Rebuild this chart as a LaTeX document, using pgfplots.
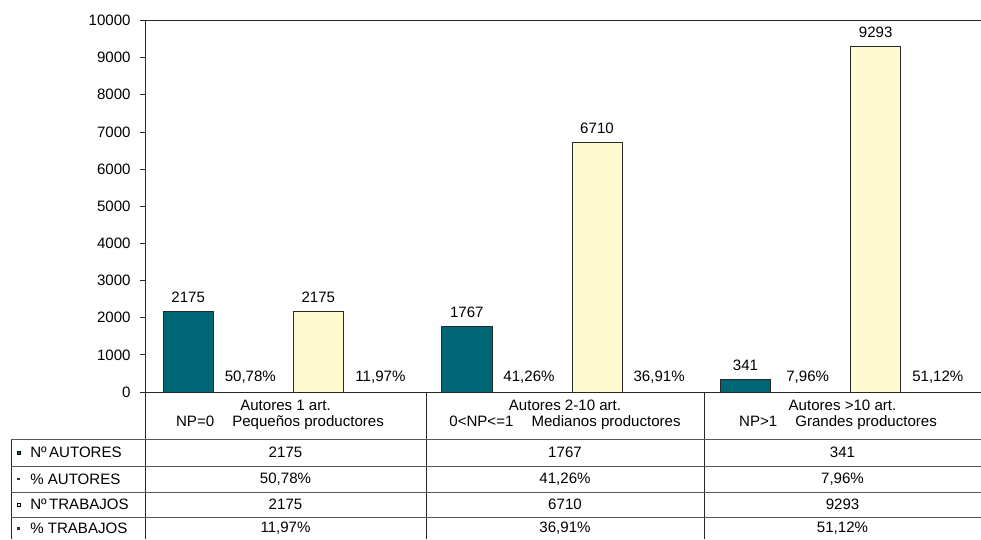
\documentclass[border=0pt]{standalone}
\usepackage{fontspec}
\setmainfont{Liberation Sans}
\usepackage{pgfplots}
\pgfplotsset{compat=1.18}
\definecolor{teal1}{RGB}{0,102,118}
\definecolor{cream}{RGB}{255,250,208}
\definecolor{edge}{RGB}{40,40,40}
\begin{document}
\begin{tikzpicture}[font=\fontsize{11.3}{13}\selectfont]
\useasboundingbox (0,0) rectangle (735.75pt,-404.25pt);
\begin{axis}[
  at={(108.75pt,-294pt)}, anchor=south west,
  scale only axis, width=627pt, height=278.625pt,
  xmin=-0.5, xmax=2.5, ymin=0, ymax=10000,
  axis y line*=left, axis x line*=bottom,
  ytick={0,1000,...,10000}, xtick=\empty,
  scaled y ticks=false,
  tick align=outside, major tick length=3.75pt,
  tick style={edge, line width=0.6pt},
  axis line style={edge, line width=0.75pt},
  yticklabel style={/pgf/number format/1000 sep={}, /pgf/number format/assume math mode=true, font=\fontsize{11.3}{13}\selectfont, xshift=-3.5pt},
  clip=false,
  point meta=explicit symbolic,
  nodes near coords,
  nodes near coords style={font=\fontsize{11.3}{13}\selectfont, anchor=south, yshift=3pt, text=black},
]
% No AUTORES
\addplot[ybar, bar width=0.18, bar shift=0pt, fill=teal1, draw=edge, line width=0.6pt]
  coordinates {(-0.345,2175) [2175] (0.655,1767) [1767] (1.655,341) [341]};
% % AUTORES
\addplot[ybar, bar width=0.18, bar shift=0pt, draw=none, fill=none]
  coordinates {(-0.122,0.5078) [50,78\%] (0.878,0.4126) [41,26\%] (1.878,0.0796) [7,96\%]};
% No TRABAJOS
\addplot[ybar, bar width=0.18, bar shift=0pt, fill=cream, draw=edge, line width=0.6pt]
  coordinates {(0.122,2175) [2175] (1.122,6710) [6710] (2.122,9293) [9293]};
% % TRABAJOS
\addplot[ybar, bar width=0.18, bar shift=0pt, draw=none, fill=none]
  coordinates {(0.345,0.1197) [11,97\%] (1.345,0.3691) [36,91\%] (2.345,0.5112) [51,12\%]};
\end{axis}
\begin{scope}[x=0.75pt, y=-0.75pt]
  % top border of plot area
  \draw[edge, line width=0.75pt] (145,20.5) -- (981,20.5);
  % table grid
  \draw[edge, line width=0.75pt] (145,392) -- (145,539);
  \draw[edge, line width=0.75pt] (426,392) -- (426,539);
  \draw[edge, line width=0.75pt] (704,392) -- (704,539);
  \draw[edge, line width=0.75pt] (11,439) -- (11,539);
  \foreach \yy in {439,466,492,517} {\draw[black!65, line width=0.75pt] (11,\yy) -- (981,\yy);}
  % category headers
  \node at (285.5,405) {Autores 1 art.};
  \node at (280,423) {NP=0\hspace{1.2em}Pequeños productores};
  \node at (565,405) {Autores 2-10 art.};
  \node at (565,423) {0<NP<=1\hspace{1.2em}Medianos productores};
  \node at (842.5,405) {Autores >10 art.};
  \node at (838,423) {NP>1\hspace{1.2em}Grandes productores};
  % legend column
  \fill[teal1, draw=black, line width=0.3pt] (17,451) rectangle (20,454);
  \fill[black!80] (17,478) rectangle (20,480);
  \fill[cream, draw=black, line width=0.3pt] (17,503) rectangle (20,506);
  \fill[black!80] (17,527) rectangle (20,530);
  \node[anchor=west, inner sep=0pt] at (30,452.5) {Nº\,AUTORES};
  \node[anchor=west, inner sep=0pt] at (30,479) {\% AUTORES};
  \node[anchor=west, inner sep=0pt] at (30,504.5) {Nº\,TRABAJOS};
  \node[anchor=west, inner sep=0pt] at (30,528) {\% TRABAJOS};
  % values
  \node at (285.5,452.5) {2175};
  \node at (565,452.5) {1767};
  \node at (842.5,452.5) {341};
  \node at (285.5,479) {50,78\%};
  \node at (565,479) {41,26\%};
  \node at (842.5,479) {7,96\%};
  \node at (285.5,504.5) {2175};
  \node at (565,504.5) {6710};
  \node at (842.5,504.5) {9293};
  \node at (285.5,528) {11,97\%};
  \node at (565,528) {36,91\%};
  \node at (842.5,528) {51,12\%};
\end{scope}
\end{tikzpicture}
\end{document}
